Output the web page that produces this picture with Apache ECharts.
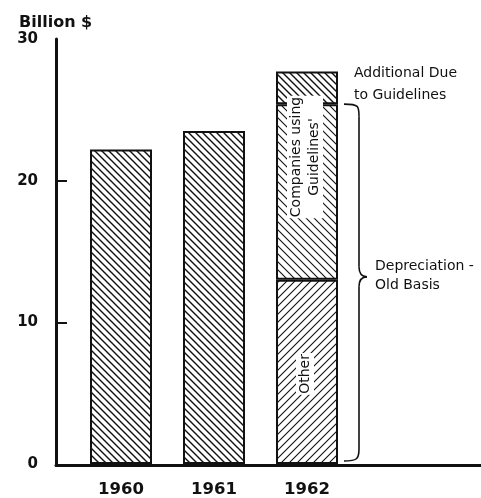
<!DOCTYPE html>
<html>
<head>
<meta charset="utf-8">
<script src="https://cdn.jsdelivr.net/npm/echarts@6/dist/echarts.min.js"></script>
<style>
  html, body { margin: 0; padding: 0; background: #fff; }
  #chart { width: 481px; height: 498px; }
</style>
</head>
<body>
<div id="chart"></div>
<script>
// data (billion $)
const years = ['1960', '1961', '1962']
const oldBasisTotal = [22.2, 23.5, null]     // 1960, 1961 single bars
const otherValues = [null, null, 13.0]       // 1962, other
const companiesValues = [null, null, 12.4]   // 1962, companies using guidelines
const additionalValues = [null, null, 2.3]   // 1962, additional due to guidelines
const yTickMarks = [10, 20]

const barWidth = 62

// hatch pattern on a small canvas
const makeHatch = (size, width, dir) => {
  const c = document.createElement('canvas')
  c.width = size
  c.height = size
  const ctx = c.getContext('2d')
  ctx.fillStyle = '#fff'
  ctx.fillRect(0, 0, size, size)
  ctx.strokeStyle = '#111'
  ctx.lineWidth = width
  ctx.beginPath()
  if (dir === 'back') {
    ctx.moveTo(-size, -size); ctx.lineTo(size * 2, size * 2)
    ctx.moveTo(-size, 0); ctx.lineTo(size, size * 2)
    ctx.moveTo(0, -size); ctx.lineTo(size * 2, size)
  } else {
    ctx.moveTo(-size, size * 2); ctx.lineTo(size * 2, -size)
    ctx.moveTo(-size, size); ctx.lineTo(size, -size)
    ctx.moveTo(0, size * 2); ctx.lineTo(size * 2, 0)
  }
  ctx.stroke()
  return { image: c, repeat: 'repeat' }
}

const hatchDense = makeHatch(7, 1.4, 'back')
const hatchLight = makeHatch(8, 1.1, 'back')
const hatchFwd = makeHatch(8, 1.1, 'fwd')

const chart = echarts.init(document.getElementById('chart'))

const innerLabel = {
  show: true,
  position: 'inside',
  rotate: 90,
  fontFamily: 'DejaVu Sans',
  fontSize: 14,
  lineHeight: 18,
  color: '#111',
  backgroundColor: '#fff',
  padding: [0, 1]
}

const option = {
  animation: false,
  title: {
    text: 'Billion $',
    left: 14,
    top: 10,
    textStyle: { fontFamily: 'DejaVu Sans', fontWeight: 'bold', fontSize: 16, color: '#111' }
  },
  grid: [
    // bars
    { left: 74.5, right: 127.5, top: 39, bottom: 33 },
    // full-width baseline
    { left: 56, right: 0, top: 39, bottom: 33 }
  ],
  xAxis: [
    {
      type: 'category',
      gridIndex: 0,
      data: years,
      axisLine: { show: false },
      axisTick: { show: false },
      axisLabel: {
        margin: 17,
        fontFamily: 'DejaVu Sans',
        fontWeight: 'bold',
        fontSize: 16.5,
        color: '#111'
      }
    },
    {
      type: 'value',
      gridIndex: 1,
      min: 0,
      max: 1,
      splitLine: { show: false },
      axisTick: { show: false },
      axisLabel: { show: false },
      axisLine: { show: true, lineStyle: { color: '#111', width: 3 } }
    }
  ],
  yAxis: [
    {
      type: 'value',
      gridIndex: 0,
      min: 0,
      max: 30,
      interval: 10,
      offset: 18.5,
      splitLine: { show: false },
      axisLine: { show: true, lineStyle: { color: '#111', width: 3 } },
      axisTick: { show: true, inside: true, length: 11, customValues: yTickMarks, lineStyle: { color: '#111', width: 2 } },
      axisLabel: {
        margin: 18,
        fontFamily: 'DejaVu Sans',
        fontWeight: 'bold',
        fontSize: 15,
        color: '#111'
      }
    },
    { type: 'value', gridIndex: 1, show: false, min: 0, max: 30 }
  ],
  series: [
    {
      name: 'Depreciation - Old Basis',
      type: 'bar',
      stack: 'total',
      barWidth: barWidth,
      data: oldBasisTotal,
      itemStyle: { color: hatchDense, borderColor: '#111', borderWidth: 2 }
    },
    {
      name: 'Other',
      type: 'bar',
      stack: 'total',
      barWidth: barWidth,
      data: otherValues,
      itemStyle: { color: hatchFwd, borderColor: '#111', borderWidth: 2 },
      label: { ...innerLabel, offset: [-2, -2], formatter: 'Other' }
    },
    {
      name: 'Companies using Guidelines',
      type: 'bar',
      stack: 'total',
      barWidth: barWidth,
      data: companiesValues,
      itemStyle: { color: hatchLight, borderColor: '#111', borderWidth: 2 },
      label: { ...innerLabel, offset: [35, -2], formatter: 'Companies using\nGuidelines\'' }
    },
    {
      name: 'Additional Due to Guidelines',
      type: 'bar',
      stack: 'total',
      barWidth: barWidth,
      data: additionalValues,
      itemStyle: { color: hatchDense, borderColor: '#111', borderWidth: 2 },
      label: {
        show: true,
        position: 'right',
        distance: 16,
        offset: [0, -4],
        formatter: 'Additional Due\nto Guidelines',
        fontFamily: 'DejaVu Sans',
        fontSize: 14,
        lineHeight: 22,
        align: 'left',
        color: '#111'
      }
    }
  ]
}

chart.setOption(option)

// brace for "Depreciation - Old Basis", placed through the axes
const oldBasisTop = otherValues[2] + companiesValues[2]
const braceTop = chart.convertToPixel({ gridIndex: 0 }, ['1962', oldBasisTop])
const braceBottom = chart.convertToPixel({ gridIndex: 0 }, ['1962', 0])
const braceMid = chart.convertToPixel({ gridIndex: 0 }, ['1962', otherValues[2]])
const bx = braceTop[0] + barWidth / 2 + 21
const x0 = bx - 15
const tY = braceTop[1]
const mY = braceMid[1] - 3
const bY = braceBottom[1] - 3
const stroke = { fill: 'none', stroke: '#111', lineWidth: 1.6 }

chart.setOption({
  graphic: [
    { type: 'bezierCurve', shape: { x1: x0, y1: tY, cpx1: bx, cpy1: tY, cpx2: bx, cpy2: tY + 2, x2: bx, y2: tY + 12 }, style: stroke },
    { type: 'line', shape: { x1: bx, y1: tY + 12, x2: bx, y2: mY - 10 }, style: stroke },
    { type: 'bezierCurve', shape: { x1: bx, y1: mY - 10, cpx1: bx, cpy1: mY - 2, cpx2: bx + 4, cpy2: mY, x2: bx + 8, y2: mY }, style: stroke },
    { type: 'bezierCurve', shape: { x1: bx + 8, y1: mY, cpx1: bx + 4, cpy1: mY, cpx2: bx, cpy2: mY + 2, x2: bx, y2: mY + 10 }, style: stroke },
    { type: 'line', shape: { x1: bx, y1: mY + 10, x2: bx, y2: bY - 12 }, style: stroke },
    { type: 'bezierCurve', shape: { x1: bx, y1: bY - 12, cpx1: bx, cpy1: bY - 2, cpx2: bx - 2, cpy2: bY, x2: x0, y2: bY }, style: stroke },
    {
      type: 'text',
      x: bx + 16,
      y: mY - 1,
      style: {
        text: 'Depreciation -\nOld Basis',
        font: '14px "DejaVu Sans"',
        lineHeight: 19,
        fill: '#111',
        verticalAlign: 'middle'
      }
    }
  ]
})
</script>
</body>
</html>
